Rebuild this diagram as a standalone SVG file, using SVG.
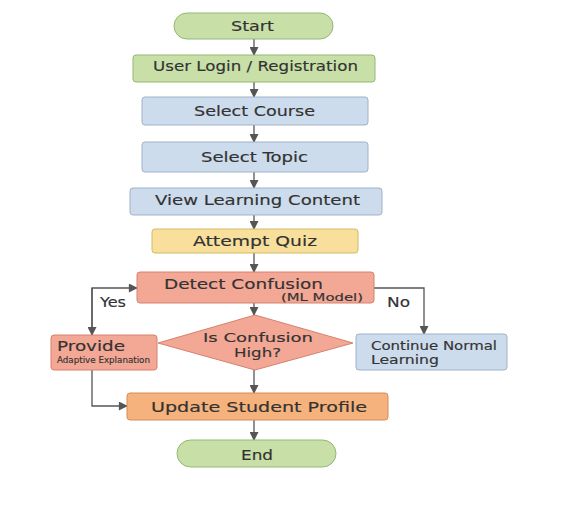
<svg xmlns="http://www.w3.org/2000/svg" width="566" height="521" viewBox="0 0 566 521">
<defs>
<marker id="ah" viewBox="0 0 10 10" refX="9" refY="5" markerWidth="10" markerHeight="9" markerUnits="userSpaceOnUse" orient="auto">
<path d="M0,0 L10,5 L0,10 z" fill="#555"/>
</marker>
</defs>
<style>
text{font-family:"DejaVu Sans","Liberation Sans",sans-serif;fill:#333;stroke:#333;stroke-width:0.15}
.t{font-size:13.5px}
.g{fill:#c8e0a8;stroke:#93b872;stroke-width:1}
.b{fill:#cddcec;stroke:#9fb2c7;stroke-width:1}
.y{fill:#f8e09c;stroke:#d4b966;stroke-width:1}
.s{fill:#f3a795;stroke:#d5826f;stroke-width:1}
.o{fill:#f5b27c;stroke:#d58e58;stroke-width:1}
.c line,.c polyline{stroke:#555;stroke-width:1.3;fill:none;marker-end:url(#ah)}
</style>
<rect width="566" height="521" fill="#fff"/>
<g class="c" id="connectors">
<line x1="254" y1="39" x2="254" y2="55"/>
<line x1="254" y1="82" x2="254" y2="97"/>
<line x1="254" y1="125" x2="254" y2="142"/>
<line x1="254" y1="172" x2="254" y2="188"/>
<line x1="254" y1="215" x2="254" y2="229"/>
<line x1="254" y1="253" x2="254" y2="272"/>
<line x1="254" y1="303" x2="254" y2="315"/>
<line x1="254" y1="370" x2="254" y2="393"/>
<line x1="254" y1="420" x2="254" y2="440"/>
<polyline points="92,335 92,288 137,288"/>
<line x1="92" y1="288" x2="92" y2="335"/>
<polyline points="374,288 424,288 424,334"/>
<polyline points="92,370 92,406 127,406"/>
</g>
<text class="t" x="100" y="306.5" textLength="26" lengthAdjust="spacingAndGlyphs">Yes</text>
<text class="t" x="387" y="306.5" textLength="23" lengthAdjust="spacingAndGlyphs">No</text>
<g id="start"><rect class="g" x="174" y="13" width="159" height="26" rx="13"/><text class="t" x="231" y="30.5" textLength="43" lengthAdjust="spacingAndGlyphs">Start</text></g>
<g id="login"><rect class="g" x="133" y="55" width="242" height="27" rx="3"/><text class="t" x="153" y="71" textLength="205" lengthAdjust="spacingAndGlyphs">User Login / Registration</text></g>
<g id="course"><rect class="b" x="142" y="97" width="226" height="28" rx="3"/><text class="t" x="194" y="116" textLength="121" lengthAdjust="spacingAndGlyphs">Select Course</text></g>
<g id="topic"><rect class="b" x="142" y="142" width="226" height="30" rx="3"/><text class="t" x="201" y="161.5" textLength="107" lengthAdjust="spacingAndGlyphs">Select Topic</text></g>
<g id="content"><rect class="b" x="130" y="188" width="252" height="27" rx="3"/><text class="t" x="155" y="205" textLength="205" lengthAdjust="spacingAndGlyphs">View Learning Content</text></g>
<g id="quiz"><rect class="y" x="152" y="229" width="206" height="24" rx="3"/><text class="t" x="193" y="246" textLength="124" lengthAdjust="spacingAndGlyphs">Attempt Quiz</text></g>
<g id="detect"><rect class="s" x="137" y="272" width="237" height="31" rx="3"/><text class="t" x="164" y="289" textLength="159" lengthAdjust="spacingAndGlyphs">Detect Confusion</text><text x="281" y="300.5" font-size="10.5" textLength="82" lengthAdjust="spacingAndGlyphs">(ML Model)</text></g>
<g id="decision"><polygon class="s" points="255,315 353,343 255,370 158,343"/><text x="203" y="342" font-size="12.5" textLength="110" lengthAdjust="spacingAndGlyphs">Is Confusion</text><text x="234" y="357" font-size="12.5" textLength="47" lengthAdjust="spacingAndGlyphs">High?</text></g>
<g id="provide"><rect class="s" x="51" y="335" width="106" height="35" rx="3"/><text class="t" x="57" y="350.5" textLength="68" lengthAdjust="spacingAndGlyphs">Provide</text><text x="57" y="363" font-size="8" stroke-width="0.1" textLength="93" lengthAdjust="spacingAndGlyphs">Adaptive Explanation</text></g>
<g id="continue"><rect class="b" x="356" y="334" width="151" height="36" rx="3"/><text x="371" y="350" font-size="11.5" textLength="126" lengthAdjust="spacingAndGlyphs">Continue Normal</text><text x="371" y="364" font-size="11.5" textLength="68" lengthAdjust="spacingAndGlyphs">Learning</text></g>
<g id="update"><rect class="o" x="127" y="393" width="261" height="27" rx="3"/><text class="t" x="151" y="411.5" textLength="216" lengthAdjust="spacingAndGlyphs">Update Student Profile</text></g>
<g id="end"><rect class="g" x="177" y="440" width="159" height="27" rx="13.5"/><text class="t" x="241" y="459.5" textLength="32" lengthAdjust="spacingAndGlyphs">End</text></g>
</svg>
